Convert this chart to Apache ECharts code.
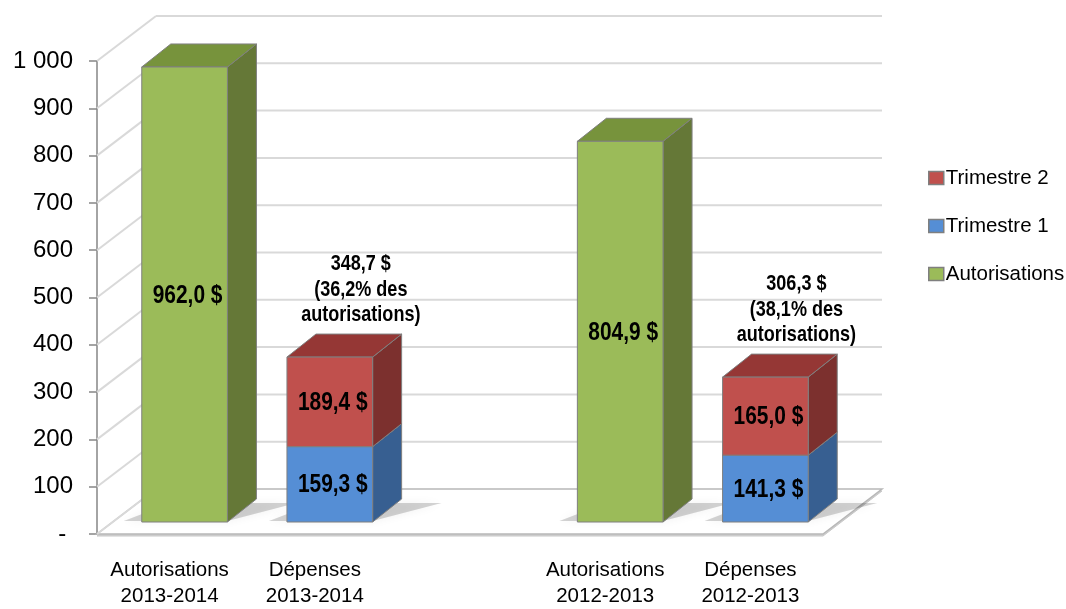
<!DOCTYPE html>
<html>
<head>
<meta charset="utf-8">
<script src="https://cdn.jsdelivr.net/npm/echarts@6/dist/echarts.min.js"></script>
<style>html,body{margin:0;padding:0;background:#fff;}#chart{width:1066px;height:609px;}</style>
</head>
<body>
<div id="chart"></div>
<script>
// ---- data ----
const categories = ['Autorisations\n2013-2014', 'Dépenses\n2013-2014', '', 'Autorisations\n2012-2013', 'Dépenses\n2012-2013'];
const autorisations = [962.0, null, null, 804.9, null];
const trimestre1 = [null, 159.3, null, null, 141.3];
const trimestre2 = [null, 189.4, null, null, 165.0];
const yTickValues = [0, 100, 200, 300, 400, 500, 600, 700, 800, 900, 1000];
const legendNames = ['Trimestre 2', 'Trimestre 1', 'Autorisations'];

// ---- style ----
const FONT = '"Liberation Sans", Arial, sans-serif';
const NARROW = 0.82;         // condensed look of the original labels
const DX = 59, DY = -45;     // wall depth
const BX = 15, BY = -12;     // bar plane offset from front
const BDX = 29, BDY = -23;   // bar depth
const BAR_FRAC = 0.59;
const COLORS = {
  Autorisations: { front: '#9BBB59', side: '#657837', top: '#77933C' },
  'Trimestre 1': { front: '#558ED5', side: '#375F91', top: '#4372AA' },
  'Trimestre 2': { front: '#C0504D', side: '#7C302E', top: '#953735' }
};
const EDGE = '#7f7f7f';

function fmt(v) { return v.toFixed(1).replace('.', ',') + ' $'; }

function bar3d(api, col, idx, base, top, label, extra) {
  const c = api.coord([idx, top]);
  const c0 = api.coord([idx, base]);
  const w = api.size([1, 0])[0] * BAR_FRAC;
  const x0 = c[0] - w / 2 + BX, x1 = x0 + w;
  const yt = c[1] + BY, yb = c0[1] + BY;
  const children = [
    { type: 'polygon', shape: { points: [[x1, yb], [x1 + BDX, yb + BDY], [x1 + BDX, yt + BDY], [x1, yt]] },
      style: { fill: col.side, stroke: EDGE, lineWidth: 1 } },
    { type: 'polygon', shape: { points: [[x0, yt], [x0 + BDX, yt + BDY], [x1 + BDX, yt + BDY], [x1, yt]] },
      style: { fill: col.top, stroke: EDGE, lineWidth: 1 } },
    { type: 'rect', shape: { x: x0, y: yt, width: w, height: yb - yt },
      style: { fill: col.front, stroke: EDGE, lineWidth: 1 } },
    { type: 'text', x: (x0 + x1) / 2 + 3, y: (yt + yb) / 2 + 1, scaleX: NARROW,
      style: { text: label, x: 0, y: 0, align: 'center', verticalAlign: 'middle',
        fontFamily: FONT, fontWeight: 'bold', fontSize: 25.5, fill: '#000' } }
  ];
  if (extra) {
    children.push({ type: 'text', x: (x0 + x1) / 2 + 31, y: yt - 29, scaleX: NARROW,
      style: { text: extra, x: 0, y: 0, align: 'center', verticalAlign: 'bottom',
        fontFamily: FONT, fontWeight: 'bold', fontSize: 22, lineHeight: 25.5, fill: '#000' } });
  }
  return children;
}

function shadow(api, idx, base) {
  const c0 = api.coord([idx, base]);
  const w = api.size([1, 0])[0] * BAR_FRAC;
  const x0 = c0[0] - w / 2 + BX, x1 = x0 + w, yb = c0[1] + BY;
  return { type: 'polygon',
    shape: { points: [[x0 - 18, yb - 1], [x1, yb - 1], [x1 + BDX + 40, yb + BDY + 4], [x0 + BDX, yb + BDY + 4]] },
    style: { fill: 'rgba(0,0,0,0.17)', shadowBlur: 10, shadowColor: 'rgba(0,0,0,0.35)' } };
}

const chart = echarts.init(document.getElementById('chart'), null, { renderer: 'canvas' });

const option = {
  animation: false,
  backgroundColor: '#fff',
  legend: {
    data: legendNames,
    orient: 'vertical',
    left: 923, top: 160,
    itemWidth: 15, itemHeight: 13, itemGap: 22,
    icon: 'rect',
    textStyle: { fontFamily: FONT, fontSize: 20.5, color: '#000', lineHeight: 26, padding: [0, 0, 0, -3] },
    itemStyle: { borderColor: '#7f7f7f', borderWidth: 1.5 }
  },
  grid: { left: 97, right: 243, top: 61, bottom: 68, containLabel: false },
  xAxis: {
    type: 'category', data: categories,
    axisLine: { show: false }, axisTick: { show: false },
    axisLabel: { interval: 0, margin: 23, fontFamily: FONT, fontSize: 20.5, lineHeight: 26, color: '#000' },
    splitLine: { show: false }
  },
  yAxis: {
    type: 'value', min: 0, max: 1000, interval: 100,
    axisLine: { show: true, lineStyle: { color: '#868686', width: 1.5 } },
    axisTick: { show: true, length: 8, lineStyle: { color: '#868686', width: 1.5 } },
    axisLabel: { margin: 24, fontFamily: FONT, fontSize: 24, color: '#000',
      formatter: v => v === 0 ? '-\u00a0' : (v >= 1000 ? Math.floor(v / 1000) + ' ' + String(v % 1000).padStart(3, '0') : String(v)) },
    splitLine: { show: false }
  },
  series: [
    {
      type: 'custom', name: 'walls', silent: true, z: 1,
      data: yTickValues.map(v => [0, v]),
      encode: { x: 0, y: 1 },
      renderItem: function (params, api) {
        const cs = params.coordSys;
        const y = api.coord([0, api.value(1)])[1];
        const children = [];
        if (api.value(1) === 0) {
          children.push({ type: 'polygon', shape: { points: [[cs.x, y + 2], [cs.x + cs.width, y + 2], [cs.x + cs.width + DX, y + DY + 2], [cs.x + DX, y + DY + 2]] },
            style: { fill: '#d0d0d0', stroke: '#c8c8c8', lineWidth: 1 } });
          children.push({ type: 'polygon', shape: { points: [[cs.x, y], [cs.x + cs.width, y], [cs.x + cs.width + DX, y + DY], [cs.x + DX, y + DY]] },
            style: { fill: '#fff', stroke: '#b8b8b8', lineWidth: 1.5 } });
        } else {
          children.push({ type: 'line', shape: { x1: cs.x + DX, y1: y + DY, x2: cs.x + cs.width + DX, y2: y + DY },
            style: { stroke: '#d9d9d9', lineWidth: 2 } });
        }
        children.push({ type: 'line', shape: { x1: cs.x, y1: y, x2: cs.x + DX, y2: y + DY },
          style: { stroke: '#d9d9d9', lineWidth: 2 } });
        return { type: 'group', children: children };
      }
    },
    {
      type: 'custom', name: 'shadows', silent: true, z: 2,
      data: categories.map((c, i) => [i, 0]).filter((d, i) => autorisations[i] != null || trimestre1[i] != null),
      encode: { x: 0, y: 1 },
      renderItem: function (params, api) { return shadow(api, api.value(0), 0); }
    },
    {
      type: 'custom', name: 'Autorisations', z: 3,
      itemStyle: { color: COLORS.Autorisations.front },
      data: autorisations.map((v, i) => [i, 0, v]).filter(d => d[2] != null),
      encode: { x: 0, y: [1, 2] },
      renderItem: function (params, api) {
        return { type: 'group', children: bar3d(api, COLORS.Autorisations, api.value(0), api.value(1), api.value(2), fmt(api.value(2))) };
      }
    },
    {
      type: 'custom', name: 'Trimestre 1', z: 3,
      itemStyle: { color: COLORS['Trimestre 1'].front },
      data: trimestre1.map((v, i) => [i, 0, v]).filter(d => d[2] != null),
      encode: { x: 0, y: [1, 2] },
      renderItem: function (params, api) {
        return { type: 'group', children: bar3d(api, COLORS['Trimestre 1'], api.value(0), api.value(1), api.value(2), fmt(api.value(2))) };
      }
    },
    {
      type: 'custom', name: 'Trimestre 2', z: 4,
      itemStyle: { color: COLORS['Trimestre 2'].front },
      data: trimestre2.map((v, i) => [i, trimestre1[i], trimestre1[i] + v, v]).filter(d => d[3] != null),
      encode: { x: 0, y: [1, 2] },
      renderItem: function (params, api) {
        const i = api.value(0);
        const total = api.value(2);
        const aut = autorisations[i - 1];
        const pct = (total / aut * 100).toFixed(1).replace('.', ',');
        const extra = fmt(total) + '\n(' + pct + '% des\nautorisations)';
        return { type: 'group', children: bar3d(api, COLORS['Trimestre 2'], i, api.value(1), total, fmt(api.value(3)), extra) };
      }
    }
  ]
};
chart.setOption(option);
</script>
</body>
</html>
